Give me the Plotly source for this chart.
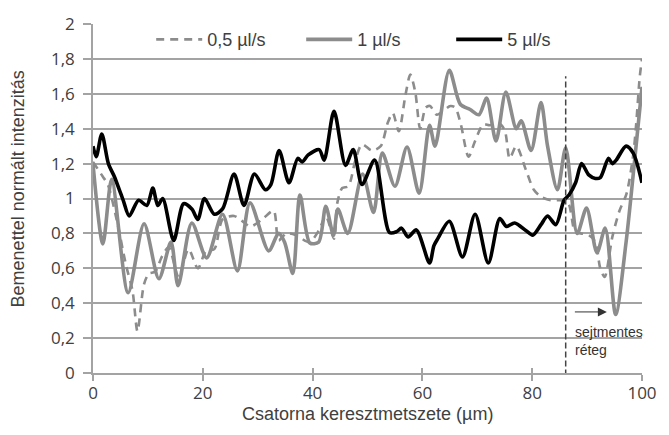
import plotly.graph_objects as go

# ---- data ----
x_05 = [0, 1.8, 2.7, 4.3, 6.0, 7.2, 8.1, 9.3, 10.2, 11.3,
        12.6, 13.8, 15.6, 17.4, 19.1, 20.6, 22.1, 23.6, 25.7, 27.2,
        28.7, 30.8, 32.9, 33.8, 35.2, 37.0, 39.4, 41.2, 42.4, 43.9,
        44.5, 45.4, 46.5, 47.8, 49.0, 50.8, 52.4, 53.7, 54.6, 55.7,
        56.9, 57.8, 58.7, 59.6, 60.6, 61.4, 62.6, 65.1, 66.0, 67.0,
        68.4, 69.6, 71.1, 72.3, 73.8, 75.0, 75.9, 77.1, 78.9, 80.3,
        81.6, 83.4, 85.2, 86.6, 87.8, 88.9, 90.3, 91.5, 92.4, 93.2,
        94.6, 95.9, 97.2, 98.4, 98.9, 99.6, 100]
y_05 = [1.21, 1.125, 1.08, 0.88, 0.62, 0.47, 0.24, 0.51, 0.57, 0.58,
        0.67, 0.72, 0.55, 0.71, 0.60, 0.70, 0.71, 0.88, 0.90, 0.87,
        0.84, 0.88, 0.93, 0.76, 0.80, 0.79, 0.75, 0.82, 0.90, 0.77,
        0.975, 1.06, 1.07, 1.22, 1.31, 1.275, 1.30, 1.435, 1.49, 1.385,
        1.59, 1.71, 1.61, 1.40, 1.52, 1.53, 1.48, 1.53, 1.52, 1.425,
        1.24, 1.33, 1.425, 1.42, 1.435, 1.39, 1.23, 1.30, 1.16, 1.05,
        1.01, 0.99, 0.99, 0.97, 0.81, 0.80, 0.79, 0.75, 0.60, 0.55,
        0.78, 0.93, 1.03, 1.25, 1.41, 1.70, 1.80]

x_1 = [0, 1.8, 3.4, 6.4, 9.3, 12.0, 14.2, 15.5, 18.0,
       20.7, 23.6, 26.3, 28.6, 32.0, 33.8, 34.9, 36.4, 37.7, 39.5,
       41.1, 42.4, 43.8, 44.6, 46.4, 49.1, 51.1, 52.7, 55.0, 57.2,
       59.4, 61.3, 62.3, 64.9, 66.9, 68.7, 70.3, 71.7, 73.4, 75.2,
       77.1, 78.0, 79.8, 81.6, 82.8, 84.6, 86.1, 88.2,
       89.9, 91.8, 93.3, 95.2, 97.1, 98.6, 100]
y_1 = [1.20, 0.74, 1.11, 0.46, 0.855, 0.54, 0.75, 0.50, 0.86,
       0.66, 0.91, 0.585, 0.975, 0.70, 0.80, 0.75, 0.57, 1.02, 0.745,
       0.75, 0.955, 0.79, 0.94, 0.80, 1.14, 0.92, 1.26, 1.07, 1.295,
       1.03, 1.42, 1.30, 1.735, 1.54, 1.51, 1.48, 1.575, 1.33, 1.61,
       1.40, 1.445, 1.275, 1.55, 1.30, 1.05, 1.29, 0.80,
       0.945, 0.69, 0.83, 0.335, 0.75, 1.20, 1.64]

x_5 = [0, 0.6, 1.6, 2.8, 3.9, 4.8, 5.5, 6.6, 8.3, 9.8,
       10.9, 11.8, 12.7, 14.7, 16.5, 18.0, 19.1, 20.3, 22.1, 23.6,
       25.7, 27.5, 29.4, 31.4, 32.4, 33.9, 35.7, 37.3, 38.1, 39.2,
       41.2, 42.1, 43.9, 46.0, 47.4, 49.0, 51.3, 54.0, 55.3, 56.2,
       57.4, 58.9, 61.3, 62.1, 62.8, 64.9, 67.3, 69.6, 72.0, 74.1,
       75.3, 76.8, 78.9, 80.1, 81.6, 82.8, 84.3, 85.8, 86.7, 87.9,
       89.0, 90.3, 91.5, 92.4, 93.9, 94.6, 95.3, 97.1, 98.4, 100]
y_5 = [1.30, 1.24, 1.37, 1.20, 1.125, 1.05, 0.99, 0.90, 0.99, 0.96,
       1.06, 0.96, 1.00, 0.76, 0.97, 0.94, 0.88, 1.00, 0.91, 0.94,
       1.14, 0.96, 1.14, 1.05, 1.08, 1.275, 1.09, 1.23, 1.21, 1.25,
       1.28, 1.22, 1.50, 1.19, 1.28, 1.08, 1.22, 0.805, 0.81, 0.83,
       0.78, 0.82, 0.63, 0.73, 0.77, 0.87, 0.665, 0.91, 0.63, 0.885,
       0.84, 0.86, 0.815, 0.79, 0.85, 0.90, 0.85, 0.99, 1.02, 1.09,
       1.20, 1.135, 1.115, 1.12, 1.23, 1.20, 1.22, 1.30, 1.26, 1.09]

series_names = ["0,5 µl/s", "1 µl/s", "5 µl/s"]
x_ticks = [0, 20, 40, 60, 80, 100]
y_ticks = [0, 0.2, 0.4, 0.6, 0.8, 1.0, 1.2, 1.4, 1.6, 1.8, 2.0]
y_ticktext = ["0", "0,2", "0,4", "0,6", "0,8", "1", "1,2", "1,4", "1,6", "1,8", "2"]
boundary_x = 86.1
boundary_top = 1.70
arrow_from = 87.5
arrow_to = 93.6
arrow_y = 0.35
label_x = 87.4
label_y = 0.29

GRAY = "#8c8c8c"
TXT = "#404040"
AX = "#a3a3a3"
SANS = "Liberation Sans, Arial, sans-serif"

fig = go.Figure()
fig.add_trace(go.Scatter(x=x_05, y=y_05, mode="lines", name=series_names[0],
                         line=dict(color=GRAY, width=2.6, dash="8px,6px", shape="spline", smoothing=0.8)))
fig.add_trace(go.Scatter(x=x_1, y=y_1, mode="lines", name=series_names[1],
                         line=dict(color=GRAY, width=3.6, shape="spline", smoothing=0.8)))
fig.add_trace(go.Scatter(x=x_5, y=y_5, mode="lines", name=series_names[2],
                         line=dict(color="#000000", width=3.6, shape="spline", smoothing=0.8)))
# invisible trace to carry the cross-tick overlay axis
fig.add_trace(go.Scatter(x=[x_ticks[0]], y=[y_ticks[0]], xaxis="x2", mode="markers",
                         marker=dict(opacity=0), showlegend=False, hoverinfo="skip"))

fig.update_layout(
    width=669, height=435,
    margin=dict(l=93, r=17, t=18, b=62),
    plot_bgcolor="white", paper_bgcolor="white",
    font=dict(family=SANS, color=TXT),
    legend=dict(orientation="h", x=0.106, xanchor="left", y=0.955, yanchor="middle",
                itemwidth=46, entrywidth=89, entrywidthmode="pixels",
                font=dict(family=SANS, size=18, color=TXT),
                bgcolor="rgba(255,255,255,0)", borderwidth=0, traceorder="normal"),
    xaxis=dict(range=[0, 100], tickvals=x_ticks, showgrid=False, zeroline=False,
               showline=True, linecolor=AX, linewidth=1.5,
               ticks="outside", ticklen=6, tickcolor=AX, tickwidth=1.5,
               ticklabelstandoff=-2,
               tickfont=dict(family="Open Sans, sans-serif", size=17, color=TXT)),
    xaxis2=dict(range=[0, 100], tickvals=x_ticks, overlaying="x", anchor="y", side="bottom",
                showgrid=False, zeroline=False, showline=False, showticklabels=False,
                ticks="inside", ticklen=5, tickcolor=AX, tickwidth=1.5),
    yaxis=dict(range=[0, 2], tickvals=y_ticks, ticktext=y_ticktext,
               showgrid=True, gridcolor=AX, gridwidth=1.5, zeroline=False,
               showline=True, linecolor=AX, linewidth=1.5,
               ticks="outside", ticklen=8, tickcolor=AX, tickwidth=1.5,
               ticklabelstandoff=5,
               tickfont=dict(family="Open Sans, sans-serif", size=17, color=TXT)),
    showlegend=True,
)

fig.add_shape(type="line", xref="x", yref="y", x0=boundary_x, x1=boundary_x,
              y0=-0.015, y1=boundary_top, line=dict(color="#444444", width=1.5, dash="6px,3px"))

fig.add_annotation(x=arrow_to, y=arrow_y, ax=arrow_from, ay=arrow_y, xref="x", yref="y",
                   axref="x", ayref="y", showarrow=True, arrowhead=2, arrowsize=1.8,
                   arrowwidth=1, arrowcolor="#333333", text="")
fig.add_annotation(x=label_x, y=label_y, xref="x", yref="y", xanchor="left", yanchor="top",
                   text="sejtmentes<br>réteg", showarrow=False, align="left",
                   font=dict(family=SANS, size=14, color="#333333"))

fig.add_annotation(x=-0.136, y=0.527, xref="paper", yref="paper", textangle=-90,
                   xanchor="center", yanchor="middle",
                   text="Bemenettel normált intenzitás", showarrow=False,
                   font=dict(family=SANS, size=18, color=TXT))
fig.add_annotation(x=0.5, y=-0.118, xref="paper", yref="paper", xanchor="center", yanchor="middle",
                   text="Csatorna keresztmetszete (µm)", showarrow=False,
                   font=dict(family=SANS, size=18, color=TXT))

fig.write_html("out.html")
